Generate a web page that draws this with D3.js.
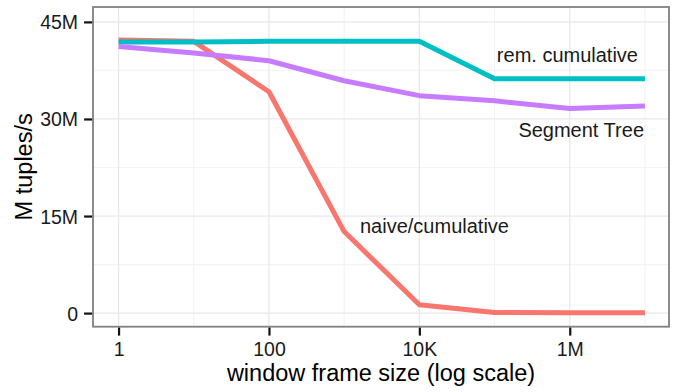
<!DOCTYPE html>
<html>
<head>
<meta charset="utf-8">
<script src="https://cdn.jsdelivr.net/npm/d3@7"></script>
<style>
  html, body { margin: 0; padding: 0; background: #fff; }
  svg { display: block; font-family: "Liberation Sans", Arial, Helvetica, sans-serif; }
</style>
</head>
<body>
<svg id="chart" width="674" height="392"></svg>
<script>
// ---- data ----
const windowSizes = [1, 10, 100, 1000, 1e4, 1e5, 1e6, 1e7];
const naiveCumulative = [42.2, 42.0, 34.2, 12.6, 1.3, 0.1, 0.05, 0.05];
const remCumulative = [41.9, 41.9, 42.0, 42.0, 42.0, 36.2, 36.2, 36.2];
const segmentTree = [41.2, 40.2, 39.0, 35.9, 33.6, 32.8, 31.6, 32.0];
const seriesNames = ["naive/cumulative", "rem. cumulative", "Segment Tree"];
const seriesColors = ["#F8766D", "#00BFC4", "#C77CFF"];
const xTickValues = [1, 100, 1e4, 1e6];
const xTickLabels = ["1", "100", "10K", "1M"];
const xMinorValues = [10, 1000, 1e5, 1e7];
const yTickValues = [0, 15, 30, 45];
const yTickLabels = ["0", "15M", "30M", "45M"];
const yMinorValues = [7.5, 22.5, 37.5];

// ---- layout ----
const svg = d3.select("#chart");
const P = { left: 93, right: 669, top: 7, bottom: 326.7 };

const x = d3.scaleLog().domain([Math.pow(10, -0.34), Math.pow(10, 7.32)]).range([P.left, P.right]);
const y = d3.scaleLinear().domain([-2.1, 47.3]).range([P.bottom, P.top]);

// panel background
svg.append("rect").attr("x", P.left).attr("y", P.top)
  .attr("width", P.right - P.left).attr("height", P.bottom - P.top).attr("fill", "#fff");

// minor grid
const grid = svg.append("g");
grid.selectAll(".xminor").data(xMinorValues).enter().append("line")
  .attr("x1", d => x(d)).attr("x2", d => x(d)).attr("y1", P.top).attr("y2", P.bottom)
  .attr("stroke", "#f4f4f4").attr("stroke-width", 1.2);
grid.selectAll(".yminor").data(yMinorValues).enter().append("line")
  .attr("x1", P.left).attr("x2", P.right).attr("y1", d => y(d)).attr("y2", d => y(d))
  .attr("stroke", "#f4f4f4").attr("stroke-width", 1.2);
// major grid
grid.selectAll(".xmajor").data(xTickValues).enter().append("line")
  .attr("x1", d => x(d)).attr("x2", d => x(d)).attr("y1", P.top).attr("y2", P.bottom)
  .attr("stroke", "#e8e8e8").attr("stroke-width", 1.3);
grid.selectAll(".ymajor").data(yTickValues).enter().append("line")
  .attr("x1", P.left).attr("x2", P.right).attr("y1", d => y(d)).attr("y2", d => y(d))
  .attr("stroke", "#e8e8e8").attr("stroke-width", 1.3);

// lines
const allSeries = [naiveCumulative, remCumulative, segmentTree];
const line = d3.line().x((d, i) => x(windowSizes[i])).y(d => y(d));
allSeries.forEach((vals, k) => {
  svg.append("path").datum(vals)
    .attr("d", line)
    .attr("fill", "none")
    .attr("stroke", seriesColors[k])
    .attr("stroke-width", 5)
    .attr("stroke-linejoin", "round");
});

// panel border
svg.append("rect").attr("x", P.left).attr("y", P.top)
  .attr("width", P.right - P.left).attr("height", P.bottom - P.top)
  .attr("fill", "none").attr("stroke", "#808080").attr("stroke-width", 1.8);

// axes
const xAxis = d3.axisBottom(x).tickValues(xTickValues)
  .tickFormat((d, i) => xTickLabels[i]).tickSize(8).tickSizeOuter(0).tickPadding(4);
const gx = svg.append("g").attr("transform", `translate(0,${P.bottom + 0.9})`).call(xAxis);
gx.select(".domain").remove();
gx.selectAll(".tick line").attr("stroke", "#111").attr("stroke-width", 2.2);
gx.selectAll(".tick text").attr("font-size", 19.5).attr("fill", "#1a1a1a")
  .attr("y", 0).attr("dy", 0).attr("transform", "translate(0,28.5)");

const yAxis = d3.axisLeft(y).tickValues(yTickValues)
  .tickFormat((d, i) => yTickLabels[i]).tickSize(8).tickSizeOuter(0).tickPadding(5);
const gy = svg.append("g").attr("transform", `translate(${P.left - 0.9},0)`).call(yAxis);
gy.select(".domain").remove();
gy.selectAll(".tick line").attr("stroke", "#111").attr("stroke-width", 2.2);
gy.selectAll(".tick text").attr("font-size", 19.5).attr("fill", "#1a1a1a")
  .attr("dy", "0.36em").attr("x", -14);

// axis titles
svg.append("text").attr("x", (P.left + P.right) / 2).attr("y", 380.5)
  .attr("text-anchor", "middle").attr("font-size", 23.5).attr("fill", "#000")
  .text("window frame size (log scale)");
svg.append("text")
  .attr("transform", `translate(32,${(P.top + P.bottom) / 2}) rotate(-90)`)
  .attr("text-anchor", "middle").attr("font-size", 23.5).attr("fill", "#000")
  .text("M tuples/s");

// series labels
svg.append("text").attr("x", 638).attr("y", 62).attr("text-anchor", "end")
  .attr("font-size", 20).attr("fill", "#1a1a1a").text(seriesNames[1]);
svg.append("text").attr("x", 644).attr("y", 136.5).attr("text-anchor", "end")
  .attr("font-size", 20).attr("fill", "#1a1a1a").text(seriesNames[2]);
svg.append("text").attr("x", 360).attr("y", 232.5).attr("text-anchor", "start")
  .attr("font-size", 20).attr("fill", "#1a1a1a").text(seriesNames[0]);
</script>
</body>
</html>
